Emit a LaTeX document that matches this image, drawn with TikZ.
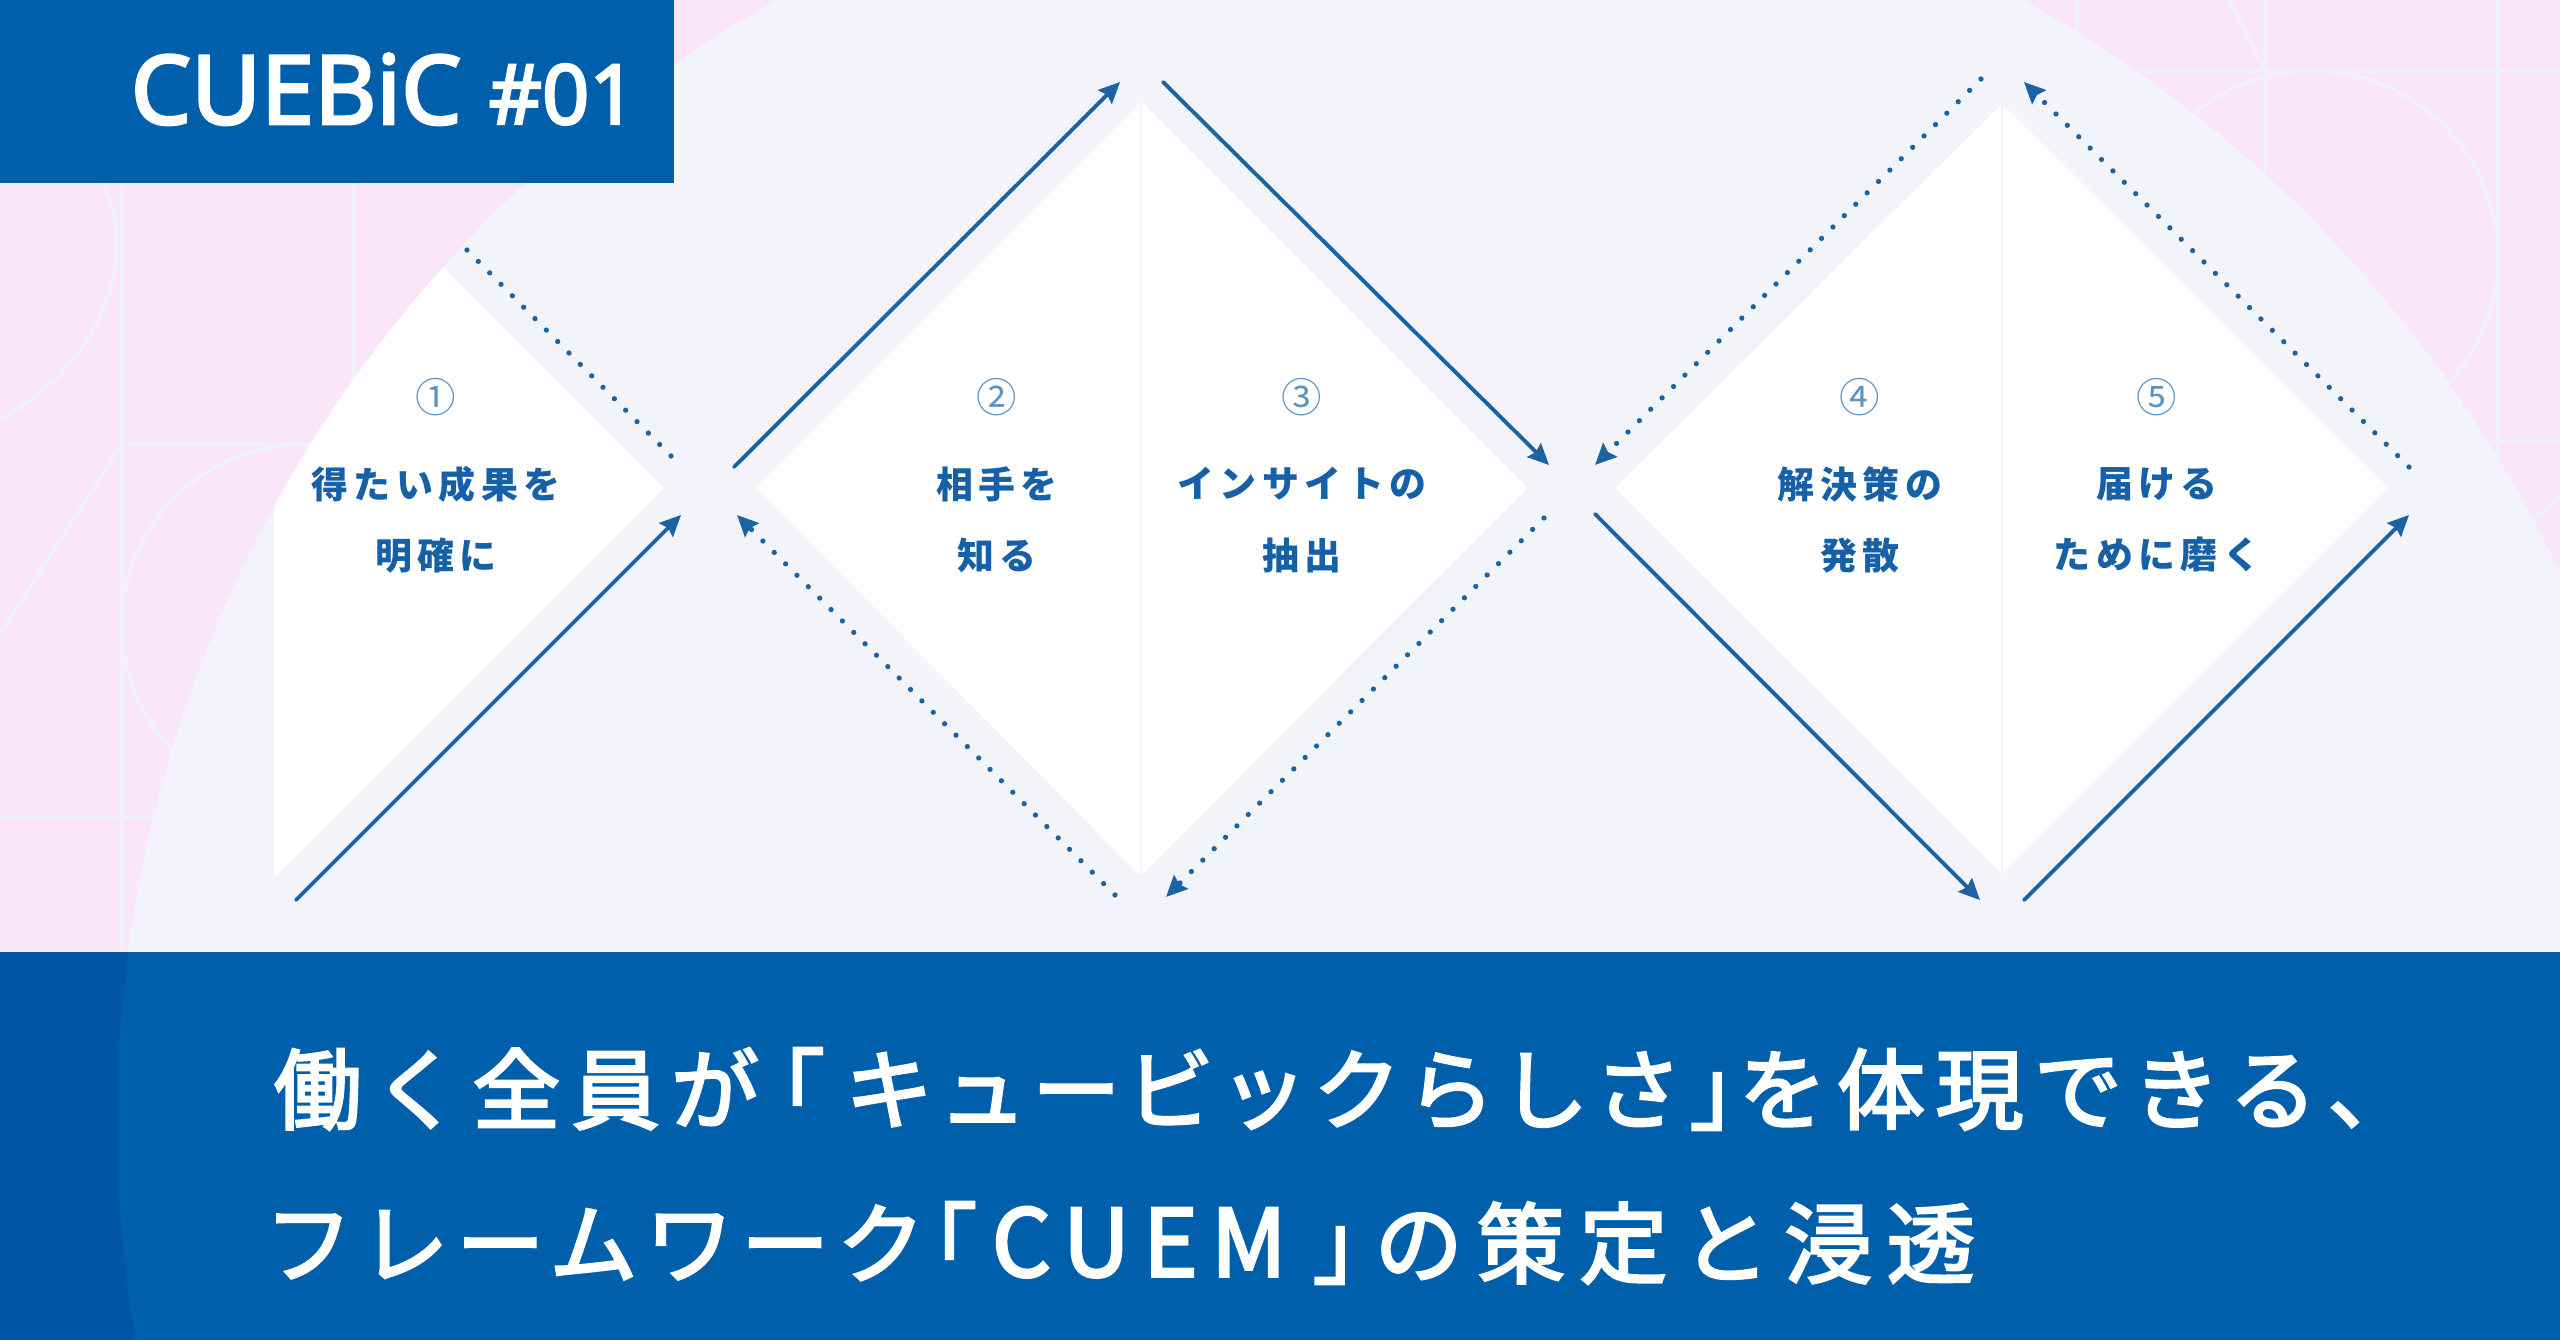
\documentclass[tikz,border=0pt]{standalone}
\usepackage{fontspec}
\usepackage{xcolor}
\usetikzlibrary{arrows.meta, positioning}
\setmainfont{Noto Sans}
\newfontfamily\brandfont[FakeBold=3]{Noto Sans}
\newfontfamily\jpfont{Noto Sans CJK JP}
\newfontfamily\jplabelfont[LetterSpace=15]{Noto Sans CJK JP}
\newfontfamily\jptitlefont[FakeBold=3]{Noto Sans CJK JP}
\newcommand{\spaced}[2]{{\addfontfeature{LetterSpace=#1}#2}}
\definecolor{cuepink}{HTML}{FBE6F9}
\definecolor{cuegrid}{HTML}{F0F2FB}
\definecolor{cuegray}{HTML}{F2F4F9}
\definecolor{cueblue}{HTML}{005FAB}
\definecolor{cuedark}{HTML}{0055A5}
\definecolor{cueline}{HTML}{1C63A3}
\definecolor{cuetext}{HTML}{1560A6}
\definecolor{cuering}{HTML}{5C94C0}
\tikzset{
  gridline/.style={draw=cuegrid, line width=1pt},
  halfline/.style={draw=cuegray, line width=.5pt},
  solidarrow/.style={draw=cueline, line width=1.1pt, line cap=round},
  dotline/.style={draw=cueline, line width=1.5pt, line cap=round, dash pattern=on 0pt off 4.58pt},
  ringnum/.style={text=cuering, inner sep=0pt, font=\jpfont\fontsize{11.5}{14}\selectfont},
  steplabel/.style={text=cuetext, inner sep=0pt, align=center, font=\jplabelfont\bfseries\fontsize{10.5}{20.34}\selectfont},
  titleline/.style={text=white, anchor=west, inner sep=0pt, font=\jptitlefont\fontsize{25}{30}\selectfont},
  brandtext/.style={text=white, anchor=base west, inner sep=0pt},
  >={Stealth[length=6pt,width=5.5pt,inset=.8pt]}
}
\begin{document}
\begin{tikzpicture}[x=0.01cm, y=-0.01cm]
  \useasboundingbox (0,0) rectangle (2560,1340);
  % background
  \fill[cuepink] (0,0) rectangle (2560,1340);
  \draw[gridline] (122,184) -- (122,952);
  \draw[gridline] (353,184) -- (353,400);
  \draw[gridline] (122,444) -- (330,444);
  \draw[gridline] (122,444) -- (0,634);
  \draw[gridline] (0,817) -- (160,817);
  \draw[gridline] (103,184) .. controls (135,245) and (115,355) .. (0,420);
  \draw[gridline] (302,625) circle (180);
  \draw[gridline] (2077,0) -- (2077,40);
  \draw[gridline] (2265,0) -- (2265,180);
  \draw[gridline] (2498,0) -- (2498,460);
  \draw[gridline] (2120,71) -- (2560,71);
  \draw[gridline] (2480,441) -- (2560,441);
  \draw[gridline] (2229,0) -- (2265,71);
  \draw[gridline] (2312,257) circle (186);
  \draw[gridline] (2530,522) -- (2560,497);
  \fill[cuegray] (1400,1122) circle (1283);
  % white diamonds
  \begin{scope}
    \clip (1400,1122) circle (1283);
    \fill[white] (274,98) -- (664,488) -- (274,878) -- cycle;
  \end{scope}
  \fill[white] (1141,102) -- (1527,488) -- (1141,876) -- (755,488) -- cycle;
  \fill[white] (2002,104) -- (2389,488) -- (2002,874) -- (1615,488) -- cycle;
  \draw[halfline] (1141,102) -- (1141,876);
  \draw[halfline, line width=.8pt] (2002,104) -- (2002,874);
  % arrow ends
  \coordinate (a1s) at (296,900);
  \coordinate (a1e) at (681,515);
  \coordinate (d1s) at (467,250);
  \coordinate (d1e) at (677,462);
  \coordinate (a2s) at (734,467);
  \coordinate (a2e) at (1120,82);
  \coordinate (d2s) at (1115,895);
  \coordinate (d2e) at (737,515);
  \coordinate (a3s) at (1163,82);
  \coordinate (a3e) at (1549,465);
  \coordinate (d3s) at (1544,518);
  \coordinate (d3e) at (1166,897);
  \coordinate (d4s) at (1981,79);
  \coordinate (d4e) at (1595,465);
  \coordinate (a4s) at (1595,514);
  \coordinate (a4e) at (1980,900);
  \coordinate (d5s) at (2409,467);
  \coordinate (d5e) at (2024,82);
  \coordinate (a5s) at (2024,900);
  \coordinate (a5e) at (2409,515);
  \draw[solidarrow, ->] (a1s) -- (a1e);
  \draw[dotline] (d1s) -- (d1e);
  \draw[solidarrow, ->] (a2s) -- (a2e);
  \draw[dotline, ->] (d2s) -- (d2e);
  \draw[solidarrow, ->] (a3s) -- (a3e);
  \draw[dotline, ->] (d3s) -- (d3e);
  \draw[dotline, ->] (d4s) -- (d4e);
  \draw[solidarrow, ->] (a4s) -- (a4e);
  \draw[dotline, ->] (d5s) -- (d5e);
  \draw[solidarrow, ->] (a5s) -- (a5e);
  % labels
  \node[ringnum] (n1) at (436,397) {①};
  \node[ringnum] (n2) at (997,397) {②};
  \node[ringnum] (n3) at (1302,397) {③};
  \node[ringnum] (n4) at (1860,397) {④};
  \node[ringnum] (n5) at (2157,397) {⑤};
  \node[steplabel] (l1) at (436,520) {得たい成果を\\明確に};
  \node[steplabel] (l2) at (997,520) {相手を\\知る};
  \node[steplabel] (l3) at (1302,520) {インサイトの\\抽出};
  \node[steplabel] (l4) at (1860,520) {解決策の\\発散};
  \node[steplabel] (l5) at (2157,520) {届ける\\ために磨く};
  % banner and bottom bar
  \fill[cueblue] (0,0) rectangle (674,183);
  \node[brandtext, font=\brandfont\fontsize{27.2}{30}\selectfont] (brand) at (130,124) {CUEBiC};
  \node[brandtext, font=\brandfont\fontsize{23.5}{30}\selectfont] (issue) at (488,124) {\#01};
  \fill[cuedark] (0,952) rectangle (2560,1340);
  \begin{scope}
    \clip (1400,1122) circle (1283);
    \fill[cueblue] (0,952) rectangle (2560,1340);
  \end{scope}
  \node[titleline] (t1) at (273,1089) {\spaced{13}{働く全員が}\kern-6.3pt\spaced{6}{「}\kern5.8pt\spaced{6.5}{キュービックらしさ}\kern2.2pt\spaced{6}{」}\kern-11.1pt\spaced{12}{を体現できる、}};
  \node[titleline] (t2) at (264,1243) {\spaced{9}{フレームワーク}\kern-10.2pt\spaced{8}{「}\kern4.2pt{\fontsize{26.5}{30}\selectfont\spaced{14}{CUEM}}\kern7.4pt\spaced{8}{」}\kern-7.4pt\spaced{16.5}{の策定と浸透}};
\end{tikzpicture}
\end{document}
